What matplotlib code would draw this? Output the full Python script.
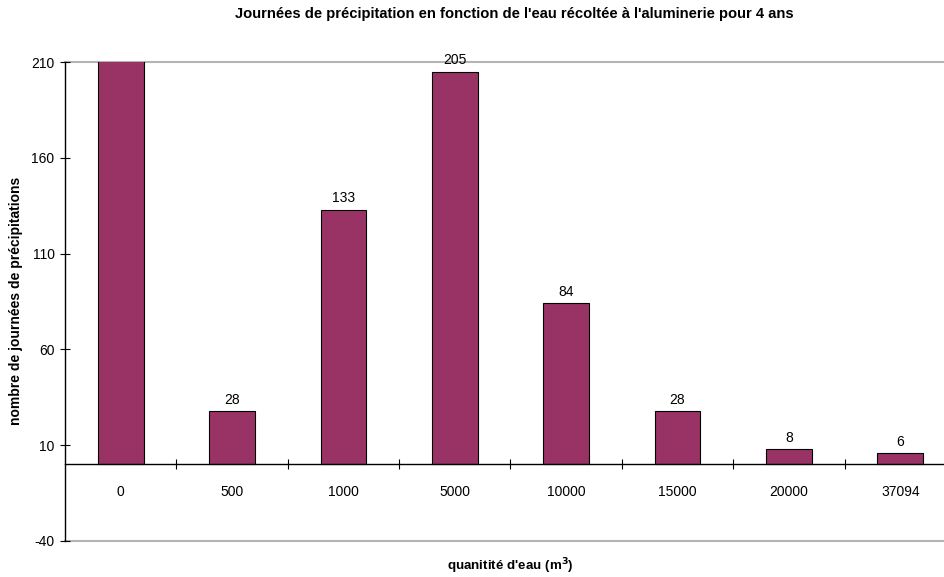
import matplotlib
matplotlib.use("Agg")
import matplotlib.pyplot as plt

plt.rcParams['font.family'] = ['Liberation Sans', 'DejaVu Sans']
plt.rcParams['axes.unicode_minus'] = False

categories = ['0', '500', '1000', '5000', '10000', '15000', '20000', '37094']
days = [969, 28, 133, 205, 84, 28, 8, 6]
yticks = [-40, 10, 60, 110, 160, 210]

bar_color = '#993366'

dpi = 100
fig = plt.figure(figsize=(945 / dpi, 577 / dpi), dpi=dpi)
ax = fig.add_axes([65 / 945, 1 - 541 / 577, (956 - 65) / 945, (541 - 62) / 577])

pos = list(range(len(categories)))
bars = ax.bar(pos, days, width=0.41, color=bar_color, edgecolor='black', linewidth=0.8, zorder=3)

for x, v in zip(pos, days):
    ax.annotate(str(v), (x, v), xytext=(0, 3), textcoords='offset points',
                ha='center', va='bottom', fontsize=10, annotation_clip=True)

ax.set_xlim(-0.5, len(categories) - 0.5)
ax.set_ylim(-40, 210)

# frame
for s in ['top', 'right']:
    ax.spines[s].set_visible(False)
ax.spines['bottom'].set_position(('data', 0))
ax.spines['bottom'].set_zorder(4)
ax.spines['left'].set_linewidth(1.0)
ax.spines['bottom'].set_linewidth(1.0)
ax.axhline(210, color='#b4b4b4', linewidth=1.5, zorder=1, clip_on=False)
ax.axhline(-40, color='#b4b4b4', linewidth=1.5, zorder=1, clip_on=False)

ax.set_yticks(yticks)
ax.tick_params(axis='y', direction='inout', length=7, labelsize=10, pad=4)

ax.set_xticks([p + 0.5 for p in pos[:-1]])
ax.set_xticklabels([])
ax.set_xticks(pos, minor=True)
ax.set_xticklabels(categories, minor=True)
ax.tick_params(axis='x', which='major', direction='inout', length=7)
ax.tick_params(axis='x', which='minor', length=0, labelsize=10, pad=15)

fig.text(514 / 945, 1 - 14 / 577, "Journées de précipitation en fonction de l'eau récoltée à l'aluminerie pour 4 ans",
         ha='center', va='center', fontsize=10.6, fontweight='bold')
fig.text(510 / 945, 1 - 566 / 577, "quanitité d'eau (m$^\\mathbf{3}$)",
         ha='center', va='center', fontsize=9.6, fontweight='bold')
fig.text(16 / 945, 1 - 301 / 577, "nombre de journées de précipitations",
         ha='center', va='center', rotation=90, fontsize=10, fontweight='bold')

fig.savefig('out.png', dpi=dpi)
